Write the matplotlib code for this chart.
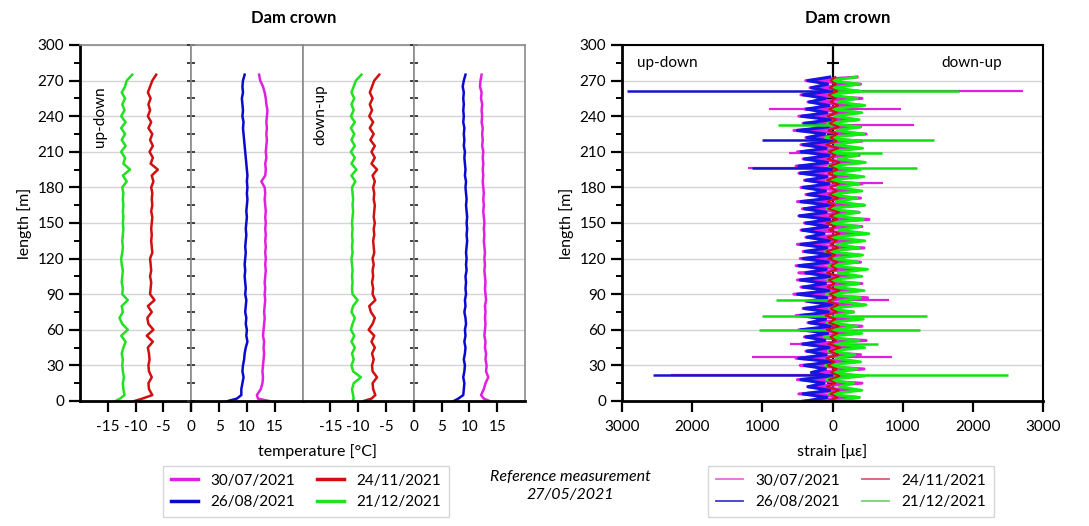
import numpy as np
import matplotlib
matplotlib.use("Agg")
import matplotlib.pyplot as plt
from matplotlib.lines import Line2D
from matplotlib.ticker import MultipleLocator

plt.rcParams['font.family'] = ['Lato', 'DejaVu Sans']

# ---------------- data ----------------
dates = ["30/07/2021", "26/08/2021", "24/11/2021", "21/12/2021"]

# temperature profiles, length grid [m]
temp_len = [0, 2] + list(range(5, 276, 5))

# panel "up-down"
t_green_ud = [-13.6, -12.8, -12.0, -12.2, -12.3, -12.1, -12.3, -12.4, -12.3, -12.5,
              -12.2, -11.8, -12.6, -11.4, -12.4, -12.9, -12.3, -12.5, -11.4, -12.4,
              -12.3, -12.5, -12.4, -12.3, -12.5, -12.6, -12.4, -12.3, -12.4, -12.3,
              -12.2, -12.3, -12.2, -12.3, -12.2, -12.3, -12.2, -12.4, -11.6, -12.3,
              -11.0, -12.2, -11.9, -12.6, -11.8, -12.5, -11.9, -12.6, -11.8, -12.6,
              -12.0, -12.4, -11.9, -12.5, -11.9, -11.6, -10.6]
t_red_ud = [-10.2, -8.8, -7.0, -7.6, -7.7, -7.1, -7.6, -7.7, -7.5, -7.6,
            -7.8, -6.9, -8.0, -6.8, -7.7, -7.9, -7.1, -7.8, -6.6, -7.4,
            -7.3, -7.2, -7.4, -7.2, -7.3, -7.4, -7.0, -7.1, -7.2, -7.1,
            -7.2, -7.1, -7.0, -7.2, -7.0, -7.1, -7.0, -7.2, -6.8, -7.1,
            -6.0, -7.3, -6.9, -7.5, -6.9, -7.4, -7.0, -7.7, -7.2, -7.8,
            -7.4, -7.7, -7.3, -7.8, -7.4, -7.0, -6.3]
t_blue_ud = [6.6, 8.2, 9.0, 9.0, 9.2, 9.4, 9.2, 9.3, 9.5, 9.6,
             9.8, 10.1, 9.9, 10.0, 9.8, 9.9, 9.7, 9.8, 9.9, 9.7,
             9.8, 9.7, 9.6, 9.7, 9.6, 9.7, 9.8, 9.7, 9.8, 9.9,
             9.8, 9.9, 10.0, 9.9, 10.0, 10.1, 10.0, 10.1, 10.0, 10.1,
             10.0, 9.9, 9.8, 9.7, 9.6, 9.5, 9.4, 9.3, 9.4, 9.2,
             9.3, 9.2, 9.1, 9.3, 9.2, 9.3, 9.6]
t_mag_ud = [14.0, 12.0, 11.8, 12.5, 12.8, 12.9, 12.8, 12.9, 13.0, 13.1,
            13.0, 13.1, 12.9, 13.0, 13.1, 13.2, 13.1, 13.2, 13.3, 13.2,
            13.3, 13.2, 13.3, 13.4, 13.3, 13.4, 13.3, 13.4, 13.3, 13.4,
            13.3, 13.4, 13.3, 13.4, 13.3, 13.2, 13.3, 13.2, 12.6, 13.3,
            13.4, 13.3, 13.5, 13.4, 13.5, 13.6, 13.5, 13.6, 13.5, 13.6,
            13.7, 13.5, 13.4, 13.2, 12.9, 12.4, 12.2]

# panel "down-up"
t_green_du = [-11.0, -10.8, -10.9, -11.1, -10.8, -9.5, -10.9, -11.2, -10.8, -11.1,
              -10.6, -11.2, -10.7, -11.3, -11.0, -10.6, -11.2, -10.9, -10.1, -11.0,
              -11.1, -11.0, -11.1, -11.0, -11.1, -11.2, -11.0, -11.1, -11.0, -11.1,
              -11.0, -11.1, -11.0, -10.9, -11.0, -10.9, -11.0, -11.1, -10.5, -11.2,
              -10.3, -11.2, -10.6, -11.3, -10.6, -11.2, -10.7, -11.3, -10.6, -11.3,
              -10.8, -11.2, -10.7, -11.2, -10.8, -10.4, -9.4]
t_red_du = [-9.0, -7.6, -6.9, -7.3, -7.4, -6.6, -7.4, -7.5, -7.2, -7.5,
            -7.0, -7.6, -7.1, -8.1, -7.4, -7.0, -7.7, -8.0, -6.9, -7.4,
            -7.3, -7.5, -7.3, -7.4, -7.2, -7.4, -7.1, -7.2, -7.3, -7.1,
            -7.2, -7.0, -7.2, -7.1, -7.0, -7.2, -7.1, -7.3, -7.0, -7.4,
            -6.6, -7.6, -7.0, -7.6, -7.0, -7.8, -7.2, -7.9, -7.3, -8.0,
            -7.5, -7.9, -7.4, -7.9, -7.5, -7.1, -6.2]
t_blue_du = [7.2, 8.0, 8.9, 9.0, 9.1, 8.9, 9.1, 9.2, 9.0, 9.2,
             9.3, 9.1, 9.3, 9.2, 9.4, 9.3, 9.1, 9.3, 9.2, 9.4,
             9.3, 9.4, 9.3, 9.5, 9.4, 9.5, 9.4, 9.5, 9.6, 9.5,
             9.6, 9.5, 9.6, 9.5, 9.4, 9.5, 9.4, 9.3, 9.4, 9.2,
             9.3, 9.2, 9.1, 9.2, 9.0, 9.1, 9.0, 9.1, 8.9, 9.0,
             8.9, 9.0, 8.9, 9.0, 8.8, 9.0, 9.3]
t_mag_du = [13.6, 12.6, 12.1, 12.6, 12.9, 13.4, 13.0, 13.1, 12.9, 13.0,
            12.8, 12.9, 12.7, 12.8, 12.9, 12.8, 12.9, 12.8, 13.0, 12.9,
            12.8, 12.9, 12.8, 12.7, 12.8, 12.7, 12.8, 12.7, 12.6, 12.7,
            12.6, 12.7, 12.6, 12.5, 12.6, 12.5, 12.6, 12.5, 12.4, 12.5,
            12.4, 12.5, 12.4, 12.5, 12.3, 12.4, 12.3, 12.4, 12.2, 12.3,
            12.2, 12.3, 12.1, 12.2, 11.9, 12.0, 12.2]

# strain profiles, length grid every 3 m
strain_len = np.arange(0, 274, 3)
s_mag = [-420, 380, -480, 300, -350, 420, -500, 350, -300, 450,
         -460, 320, -520, 400, -380, 300, -450, 480, -400, 350,
         -480, 420, -350, 380, -520, 300, -420, 450, -380, 500,
         -550, 380, -450, 420, -500, 300, -480, 350, -520, 400,
         -460, 380, -420, 450, -500, 350, -380, 480, -450, 420,
         -400, 520, -480, 380, -430, 450, -500, 400, -380, 350,
         -450, 420, -400, 380, -480, 300, -520, 450, -420, 380,
         -500, 350, -450, 420, -380, 480, -550, 400, -420, 350,
         -480, 380, -400, 450, -350, 420, -450, 380, -320, 400,
         -380, 350]
s_blue = [-380, -80, -420, -40, -350, -120, -450, -60, -300, -100,
          -400, -20, -480, -90, -360, -50, -420, -110, -380, -70,
          -450, -30, -330, -100, -460, -60, -400, -20, -350, -80,
          -500, -50, -420, -100, -460, -40, -380, -90, -480, -60,
          -420, -30, -390, -80, -450, -50, -360, -120, -430, -70,
          -380, -40, -470, -90, -400, -60, -450, -30, -350, -100,
          -420, -50, -380, -80, -460, -20, -480, -70, -400, -50,
          -450, -90, -420, -40, -360, -110, -500, -60, -400, -30,
          -440, -80, -370, -50, -330, -100, -420, -60, -300, -70,
          -350, -40]
s_green = [60, 380, -50, 420, 100, 300, -80, 450, 20, 350,
           -100, 400, 50, 320, -60, 460, 80, 380, -120, 420,
           30, 350, -80, 440, 60, 300, -40, 480, 100, 400,
           -90, 450, 40, 380, -70, 420, 80, 500, -50, 360,
           20, 430, -100, 380, 60, 460, -30, 520, 90, 400,
           -60, 440, 30, 380, -80, 460, 50, 350, -40, 420,
           70, 380, -90, 450, 20, 400, -60, 470, 80, 360,
           -50, 430, 40, 380, -100, 450, 60, 400, -70, 380,
           30, 420, -40, 460, 80, 350, -60, 400, 20, 380,
           -30, 340]
s_red = [-60, 70, -30, 90, -80, 40, -50, 100, -20, 60,
         -70, 30, -90, 80, -40, 110, -60, 50, -30, 70,
         -80, 90, -50, 40, -100, 60, -30, 80, -60, 50,
         -40, 100, -70, 30, -50, 90, -80, 60, -20, 70,
         -60, 40, -90, 80, -30, 60, -70, 100, -50, 40,
         -80, 70, -40, 90, -60, 30, -70, 80, -50, 60,
         -30, 90, -80, 50, -60, 70, -40, 100, -70, 40,
         -50, 80, -90, 60, -30, 70, -60, 90, -40, 50,
         -70, 60, -50, 80, -30, 40, -60, 70, -40, 50,
         -30, 40]

# isolated strain peaks
mag_peak_len = [261, 246, 246, 233, 209, 196, 184, 85, 48, 37, 37, 22]
mag_peak_val = [2710, -910, 970, 1160, -620, -1210, 720, 800, -600, -1150, 850, -2300]
blue_peak_len = [261, 220, 196, 22]
blue_peak_val = [-2930, -1000, -1150, -2560]
green_peak_len = [261, 233, 220, 209, 196, 85, 72, 72, 60, 60, 48, 22]
green_peak_val = [1800, -770, 1440, 700, 1210, -800, -1000, 1350, -1050, 1250, 650, 2500]

# ---------------- style ----------------
c_mag, c_blue, c_red, c_green = '#E01FE0', '#0A0ACF', '#D01010', '#22E022'
gray = '#8a8a8a'
grid_c = '#d4d4d4'

fig = plt.figure(figsize=(10.89, 5.26), dpi=100)
W, H = 1089, 526
B = 1 - 401 / H
HH = 356 / H

# ---------------- temperature (4 panels) ----------------
L0 = 80 / W
pw = 445 / W / 4
panels = [
    ((-20, 0), [-15, -10, -5, 0], ['-15', '-10', '-5', '0'], t_green_ud, t_red_ud, None, None),
    ((0, 20), [0, 5, 10, 15], ['', '5', '10', '15'], None, None, t_blue_ud, t_mag_ud),
    ((-20, 0), [-15, -10, -5, 0], ['-15', '-10', '-5', '0'], t_green_du, t_red_du, None, None),
    ((0, 20), [0, 5, 10, 15], ['', '5', '10', '15'], None, None, t_blue_du, t_mag_du),
]
tax = []
for i, (xl, xt, xtl, g, r, b, m) in enumerate(panels):
    ax = fig.add_axes([L0 + i * pw, B, pw, HH])
    tax.append(ax)
    ax.set_xlim(*xl)
    ax.set_ylim(0, 300)
    ax.set_xticks(xt)
    ax.set_xticklabels(xtl, fontsize=11)
    ax.yaxis.set_major_locator(MultipleLocator(30))
    ax.yaxis.set_minor_locator(MultipleLocator(15))
    ax.set_axisbelow(True)
    ax.grid(axis='y', color=grid_c, lw=1)
    ax.tick_params(axis='x', direction='out', length=8, width=1.6, pad=6)
    for s in ('top', 'right'):
        ax.spines[s].set_color(gray)
        ax.spines[s].set_linewidth(1.2)
    ax.spines['bottom'].set_linewidth(2)
    if g is not None:
        ax.plot(g, temp_len, color=c_green, lw=1.8)
        ax.plot(r, temp_len, color=c_red, lw=1.8)
    else:
        ax.plot(b, temp_len, color=c_blue, lw=1.8)
        ax.plot(m, temp_len, color=c_mag, lw=1.8)
    if i == 0:
        ax.spines['left'].set_linewidth(2)
        ax.tick_params(axis='y', which='major', direction='out', length=8, width=1.6, labelsize=11)
        ax.tick_params(axis='y', which='minor', direction='out', length=4, width=1.4)
        ax.set_ylabel('length [m]', fontsize=11.5, labelpad=4)
    else:
        ax.spines['left'].set_color(gray)
        ax.spines['left'].set_linewidth(1.2)
        ax.tick_params(axis='y', which='both', labelleft=False)
        if i in (1, 3):
            ax.tick_params(axis='y', which='both', direction='inout', length=6, width=1.3, color='#333333')
        else:
            ax.tick_params(axis='y', which='both', length=0)

tax[0].text(-16.4, 240, 'up-down', rotation=90, ha='center', va='center', fontsize=11)
tax[2].text(-16.7, 241, 'down-up', rotation=90, ha='center', va='center', fontsize=11)
fig.text(318 / W, 1 - 452 / H, 'temperature [°C]', ha='center', va='center', fontsize=11.5)
fig.text(294 / W, 1 - 18 / H, 'Dam crown', ha='center', va='center', fontsize=12, fontweight='bold')

# ---------------- strain ----------------
sax = fig.add_axes([622 / W, B, 421 / W, HH])
sax.set_xlim(-3000, 3000)
sax.set_ylim(0, 300)
xt = [-3000, -2000, -1000, 0, 1000, 2000, 3000]
sax.set_xticks(xt)
sax.set_xticklabels([str(abs(v)) for v in xt], fontsize=11)
sax.yaxis.set_major_locator(MultipleLocator(30))
sax.yaxis.set_minor_locator(MultipleLocator(15))
sax.set_axisbelow(True)
sax.grid(axis='y', color=grid_c, lw=1)
sax.tick_params(axis='x', direction='out', length=8, width=1.6, pad=6)
sax.tick_params(axis='y', which='major', direction='out', length=8, width=1.6, labelsize=11)
sax.tick_params(axis='y', which='minor', direction='out', length=4, width=1.4)
for s in ('left', 'bottom'):
    sax.spines[s].set_linewidth(2)
for s in ('top', 'right'):
    sax.spines[s].set_linewidth(1.5)
sax.set_ylabel('length [m]', fontsize=11.5, labelpad=4)

sax.hlines(mag_peak_len, 0, mag_peak_val, colors=c_mag, lw=1.6)
sax.plot(s_mag, strain_len, color=c_mag, lw=2.2)
sax.hlines(blue_peak_len, 0, blue_peak_val, colors='#1515C8', lw=1.8)
sax.plot(s_blue, strain_len, color='#1515E0', lw=2.2)
sax.hlines(green_peak_len, 0, green_peak_val, colors='#10E010', lw=1.8)
sax.plot(s_green, strain_len, color='#10F010', lw=2.0)
sax.plot(s_red, strain_len, color=c_red, lw=1.4)

mid = sax.secondary_yaxis(0.5)
mid.set_yticks(np.arange(0, 301, 15))
mid.set_yticklabels([])
mid.tick_params(axis='y', direction='inout', length=8, width=1.5)
for s in mid.spines.values():
    s.set_linewidth(1.6)

sax.text(-2790, 285, 'up-down', ha='left', va='center', fontsize=11)
sax.text(2420, 285, 'down-up', ha='right', va='center', fontsize=11)
fig.text(832 / W, 1 - 452 / H, 'strain [με]', ha='center', va='center', fontsize=11.5)
fig.text(848 / W, 1 - 18 / H, 'Dam crown', ha='center', va='center', fontsize=12, fontweight='bold')

# ---------------- legends ----------------
h1 = [Line2D([], [], color=c, lw=2.5) for c in (c_mag, c_blue, c_red, c_green)]
fig.legend(h1, dates, ncol=2, loc='upper left', bbox_to_anchor=(163 / W, 1 - 466 / H),
           fontsize=11, frameon=True, fancybox=False, edgecolor='#cccccc',
           handlelength=1.8, columnspacing=1.4, borderpad=0.5, labelspacing=0.5,
           borderaxespad=0)
h2 = [Line2D([], [], color=c, lw=1.3) for c in ('#E070E0', '#3A3AD8', '#D06078', '#70D870')]
fig.legend(h2, dates, ncol=2, loc='upper left', bbox_to_anchor=(708 / W, 1 - 466 / H),
           fontsize=11, frameon=True, fancybox=False, edgecolor='#cccccc',
           handlelength=1.8, columnspacing=1.4, borderpad=0.5, labelspacing=0.5,
           borderaxespad=0)
fig.text(570 / W, 1 - 486 / H, 'Reference measurement\n27/05/2021', ha='center', va='center',
         fontsize=11.5, style='italic', linespacing=1.3)

fig.savefig('out.png', dpi=100)
